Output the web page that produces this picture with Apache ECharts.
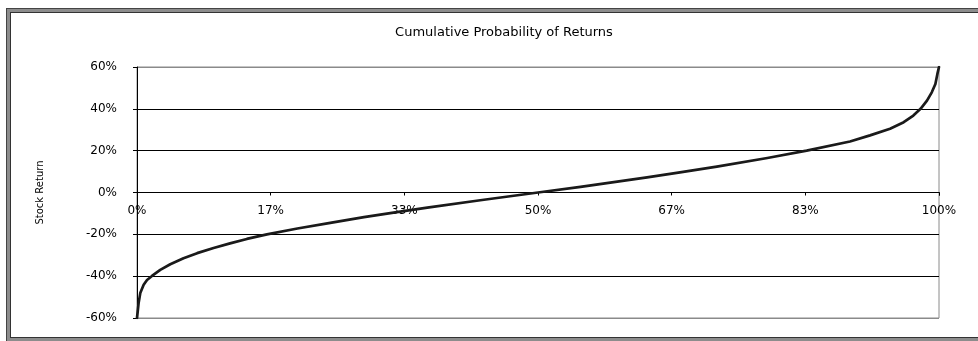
<!DOCTYPE html>
<html>
<head>
<meta charset="utf-8">
<script src="https://cdn.jsdelivr.net/npm/echarts@6/dist/echarts.min.js"></script>
<style>
  html, body { margin: 0; padding: 0; background: #fff; width: 978px; height: 341px; overflow: hidden; }
  #frame { position: absolute; left: 6px; top: 8px; width: 980px; height: 334px; box-sizing: border-box;
           background: #8c8c8c; border: 1px solid #444; padding: 3px; }
  #frameInner { width: 100%; height: 100%; box-sizing: border-box; background: #fff; border: 1px solid #333; }
  #chart { position: absolute; left: 0; top: 0; width: 978px; height: 341px; }
</style>
</head>
<body>
<div id="frame"><div id="frameInner"></div></div>
<div id="chart"></div>
<script>
const chartTitle = 'Cumulative Probability of Returns';
const yAxisName = 'Stock Return';
const xTickLabels = ['0%', '17%', '33%', '50%', '67%', '83%', '100%'];
const yTickLabels = ['-60%', '-40%', '-20%', '0%', '20%', '40%', '60%'];
const probs = [0, 0.0008, 0.002, 0.0041, 0.0083, 0.0125, 0.0187, 0.029, 0.0415, 0.058, 0.075, 0.0955, 0.116, 0.137, 0.162, 0.2, 0.241, 0.283, 0.324, 0.362, 0.428, 0.5, 0.553, 0.636, 0.677, 0.723, 0.786, 0.835, 0.889, 0.914, 0.939, 0.956, 0.968, 0.977, 0.985, 0.991, 0.9955, 0.998, 1];
const returns = [-0.60, -0.592, -0.529, -0.481, -0.441, -0.418, -0.399, -0.37, -0.343, -0.314, -0.290, -0.265, -0.243, -0.222, -0.20, -0.172, -0.145, -0.118, -0.094, -0.072, -0.037, 0, 0.027, 0.072, 0.096, 0.124, 0.165, 0.20, 0.244, 0.273, 0.305, 0.336, 0.368, 0.40, 0.439, 0.479, 0.519, 0.567, 0.60];

const seriesData = probs.map((p, i) => [p, returns[i]]);
const font = 'DejaVu Sans';

const chart = echarts.init(document.getElementById('chart'), null, { renderer: 'canvas' });
chart.setOption({
  backgroundColor: 'transparent',
  animation: false,
  title: {
    text: chartTitle,
    left: 499,
    top: 21,
    textAlign: 'center',
    textStyle: { fontFamily: font, fontSize: 13, fontWeight: 'normal', color: '#000' }
  },
  grid: {
    left: 137, right: 39, top: 67, bottom: 23,
    show: true, borderColor: '#8a8a8a', borderWidth: 1, backgroundColor: 'transparent'
  },
  xAxis: {
    type: 'value',
    min: 0, max: 1, interval: 1 / 6,
    axisLine: { show: true, onZero: true, lineStyle: { color: '#000', width: 1 } },
    axisTick: { show: true, length: 3, lineStyle: { color: '#000' } },
    axisLabel: {
      margin: -113, color: '#000', fontFamily: font, fontSize: 12,
      formatter: (v, i) => xTickLabels[i] !== undefined ? xTickLabels[i] : ''
    },
    splitLine: { show: false }
  },
  yAxis: {
    type: 'value',
    min: -0.6, max: 0.6, interval: 0.2,
    name: yAxisName,
    nameLocation: 'middle',
    nameRotate: 90,
    nameGap: 92,
    nameTextStyle: { fontFamily: font, fontSize: 10, color: '#000' },
    axisLine: { show: true, lineStyle: { color: '#000', width: 1 } },
    axisTick: { show: true, length: 4, lineStyle: { color: '#000' } },
    axisLabel: {
      margin: 20, color: '#000', fontFamily: font, fontSize: 12,
      formatter: (v, i) => yTickLabels[i] !== undefined ? yTickLabels[i] : ''
    },
    splitLine: {
      show: true,
      lineStyle: { color: ['#8a8a8a', '#000', '#000', '#000', '#000', '#000', '#8a8a8a'], width: 1 }
    }
  },
  series: [{
    type: 'line',
    data: seriesData,
    showSymbol: false,
    symbol: 'none',
    smooth: false,
    lineStyle: { color: '#1a1a1a', width: 2.7, join: 'round', cap: 'round' },
    z: 5
  }]
});
</script>
</body>
</html>
